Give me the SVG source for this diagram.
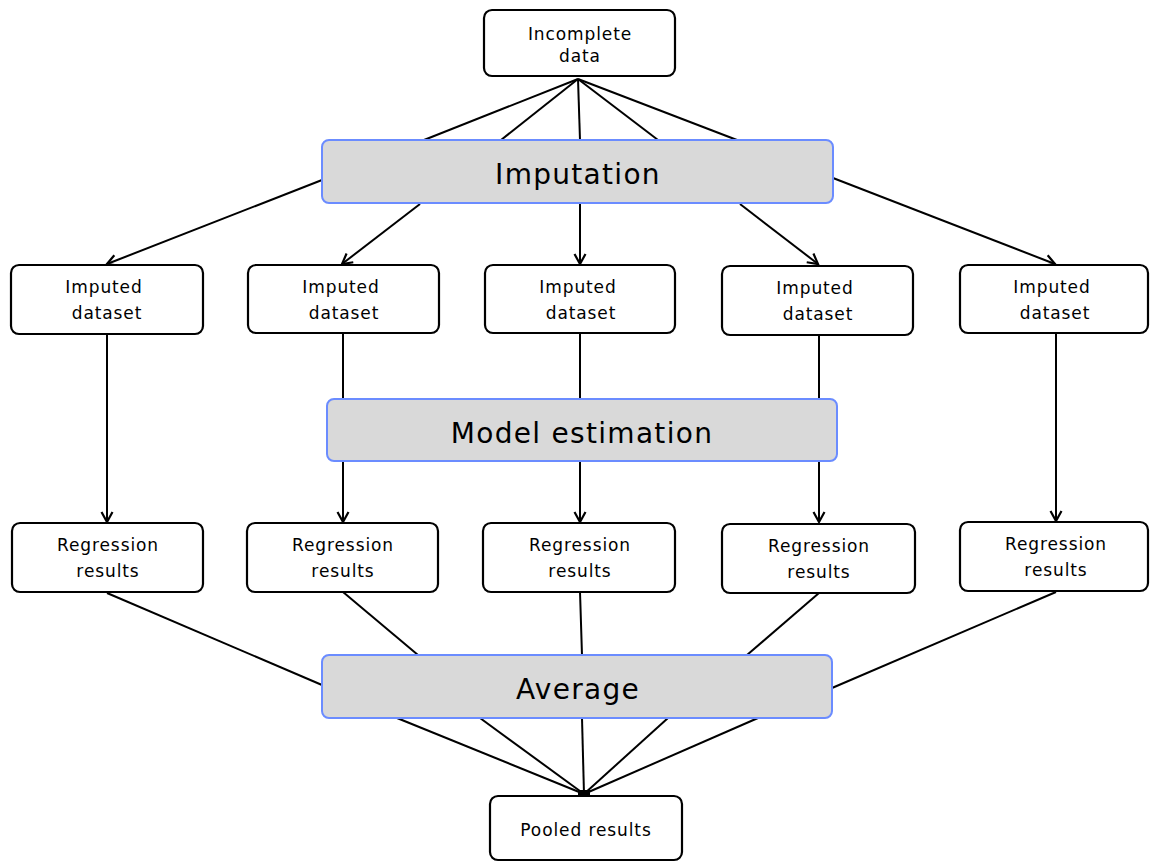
<svg xmlns="http://www.w3.org/2000/svg" width="1150" height="862" viewBox="0 0 1150 862">
<style>
.box{fill:#fff;stroke:#000;stroke-width:2.2}
.bar{fill:#d9d9d9;stroke:#6b8cff;stroke-width:2}
.t{font-family:"DejaVu Sans",Verdana,sans-serif;font-size:17px;letter-spacing:0.9px;fill:#000;text-anchor:middle}
.tb{font-family:"DejaVu Sans",Verdana,sans-serif;font-size:28px;letter-spacing:1.3px;fill:#000;text-anchor:middle}
.c line{stroke:#000;stroke-width:2}
.a{marker-end:url(#arr)}
</style>
<defs>
<marker id="arr" viewBox="0 0 14 14" refX="12" refY="7" markerWidth="14" markerHeight="14" markerUnits="userSpaceOnUse" orient="auto">
<path d="M2,1.5 L12,7 L2,12.5" fill="none" stroke="#000" stroke-width="2.2"/>
</marker>
</defs>
<rect width="1150" height="862" fill="#fff"/>
<g class="c" id="connectors">
<line x1="578" y1="79" x2="424" y2="140"/>
<line x1="578" y1="79" x2="501" y2="140"/>
<line x1="578" y1="79" x2="580" y2="140"/>
<line x1="578" y1="79" x2="658" y2="140"/>
<line x1="578" y1="79" x2="737" y2="140"/>
<line class="a" x1="322" y1="180" x2="107" y2="264"/>
<line class="a" x1="420" y1="204" x2="342" y2="264"/>
<line class="a" x1="580" y1="204" x2="580" y2="264"/>
<line class="a" x1="740" y1="204" x2="818" y2="264"/>
<line class="a" x1="833" y1="178" x2="1055" y2="264"/>
<line class="a" x1="107" y1="334" x2="107" y2="522"/>
<line x1="343" y1="333" x2="343" y2="399"/>
<line class="a" x1="343" y1="461" x2="343" y2="522"/>
<line x1="580" y1="333" x2="580" y2="399"/>
<line class="a" x1="580" y1="461" x2="580" y2="522"/>
<line x1="819" y1="335" x2="819" y2="399"/>
<line class="a" x1="819" y1="461" x2="819" y2="522"/>
<line class="a" x1="1056" y1="333" x2="1056" y2="521"/>
<line x1="107" y1="593" x2="322" y2="685"/>
<line x1="343" y1="592" x2="418" y2="655"/>
<line x1="580" y1="592" x2="582" y2="655"/>
<line x1="819" y1="593" x2="747" y2="655"/>
<line x1="1056" y1="592" x2="832" y2="688"/>
<line x1="397" y1="718" x2="584" y2="794"/>
<line x1="480" y1="718" x2="584" y2="794"/>
<line x1="582" y1="718" x2="584" y2="794"/>
<line x1="668" y1="718" x2="584" y2="794"/>
<line x1="758" y1="718" x2="584" y2="794"/>
<rect x="578" y="790" width="12" height="6" fill="#000"/>
</g>
<g id="incomplete"><rect class="box" x="484" y="10" width="191" height="66" rx="8"/><text class="t" x="580" y="40">Incomplete</text><text class="t" x="580" y="62">data</text></g>
<g id="imputation"><rect class="bar" x="322" y="140" width="511" height="63" rx="7"/><text class="tb" x="578" y="184">Imputation</text></g>
<g id="imp1"><rect class="box" x="11" y="265" width="192" height="69" rx="8"/><text class="t" x="104" y="293">Imputed</text><text class="t" x="107" y="319">dataset</text></g>
<g id="imp2"><rect class="box" x="248" y="265" width="191" height="68" rx="8"/><text class="t" x="341" y="293">Imputed</text><text class="t" x="344" y="319">dataset</text></g>
<g id="imp3"><rect class="box" x="485" y="265" width="190" height="68" rx="8"/><text class="t" x="578" y="293">Imputed</text><text class="t" x="581" y="319">dataset</text></g>
<g id="imp4"><rect class="box" x="722" y="266" width="191" height="69" rx="8"/><text class="t" x="815" y="294">Imputed</text><text class="t" x="818" y="320">dataset</text></g>
<g id="imp5"><rect class="box" x="960" y="265" width="188" height="68" rx="8"/><text class="t" x="1052" y="293">Imputed</text><text class="t" x="1055" y="319">dataset</text></g>
<g id="model"><rect class="bar" x="327" y="399" width="510" height="62" rx="7"/><text class="tb" x="582" y="443">Model estimation</text></g>
<g id="reg1"><rect class="box" x="12" y="523" width="191" height="69" rx="8"/><text class="t" x="108" y="551">Regression</text><text class="t" x="108" y="577">results</text></g>
<g id="reg2"><rect class="box" x="247" y="523" width="191" height="69" rx="8"/><text class="t" x="343" y="551">Regression</text><text class="t" x="343" y="577">results</text></g>
<g id="reg3"><rect class="box" x="483" y="523" width="192" height="69" rx="8"/><text class="t" x="580" y="551">Regression</text><text class="t" x="580" y="577">results</text></g>
<g id="reg4"><rect class="box" x="722" y="524" width="193" height="69" rx="8"/><text class="t" x="819" y="552">Regression</text><text class="t" x="819" y="578">results</text></g>
<g id="reg5"><rect class="box" x="960" y="522" width="188" height="69" rx="8"/><text class="t" x="1056" y="550">Regression</text><text class="t" x="1056" y="576">results</text></g>
<g id="average"><rect class="bar" x="322" y="655" width="510" height="63" rx="7"/><text class="tb" x="578" y="699">Average</text></g>
<g id="pooled"><rect class="box" x="490" y="796" width="192" height="64" rx="8"/><text class="t" x="586" y="836">Pooled results</text></g>
</svg>
